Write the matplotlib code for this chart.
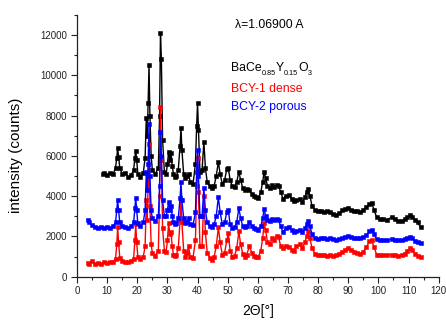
import matplotlib
matplotlib.use("Agg")
import matplotlib.pyplot as plt
from matplotlib.ticker import MultipleLocator
from matplotlib.transforms import offset_copy

plt.rcParams['font.family'] = ['Liberation Sans', 'DejaVu Sans']

# 2theta grid shared by the two BCY patterns
two_theta = [3.5, 4, 5, 6, 7, 8, 9, 10, 11, 12, 12.8, 13.2, 13.5, 13.8, 14.2, 15, 16, 17, 18,
             18.8, 19.2, 19.5, 19.8, 20.2, 21, 22, 22.6, 23.0, 23.3, 23.6, 23.9, 24.2, 24.6,
             25, 26, 27, 27.4, 27.7, 28.0, 28.4, 29, 29.6, 30.0, 30.4, 30.8, 31.2, 31.6, 32.0,
             32.5, 33, 33.6, 34.2, 34.5, 34.8, 35.4, 36, 36.6, 37, 37.6, 38.5, 39.3, 39.7, 40.0,
             40.3, 40.8, 41.5, 42.1, 42.6, 43.2, 44, 44.8, 45.5, 46.2, 46.9, 47.5, 48.2, 49,
             49.7, 50.2, 50.8, 51.5, 52.3, 53, 53.7, 54.3, 55, 55.6, 56.3, 57.2, 58, 58.8, 59.5,
             60.2, 61, 61.6, 62.1, 62.6, 63.2, 64, 64.8, 65.5, 66.2, 66.9, 67.6, 68.4, 69.2,
             70.3, 71.2, 72, 72.8, 73.9, 74.8, 75.6, 76.2, 76.7, 77.3, 78, 79, 80, 81, 82, 83,
             84, 85, 86, 87, 88, 89, 90, 91, 92, 93, 94, 95, 96, 97, 97.8, 98.6, 99.4, 100.5,
             101.5, 102.8, 104.4, 105.5, 106.5, 107.7, 108.7, 109.6, 110.5, 111.3, 112.2, 113, 114]

bcy2_porous = [2800, 2700, 2550, 2450, 2420, 2450, 2400, 2450, 2420, 2500, 2700, 3300, 3800, 3300,
               2700, 2500, 2460, 2420, 2500, 2700, 3400, 3900, 3300, 2650, 2500, 2700, 3300, 5200,
               4300, 5600, 7600, 5000, 3300, 2900, 2750, 3000, 4500, 7200, 6000, 3800, 3000, 3000,
               3300, 3700, 3300, 3500, 3000, 2700, 2600, 2650, 2900, 3900, 4700, 3800, 2900, 2650,
               2700, 2900, 2600, 2550, 3200, 5200, 6300, 5000, 3000, 3000, 4400, 3300, 2700, 2500,
               2480, 2600, 3000, 3950, 3200, 2600, 2700, 3200, 3300, 2600, 2400, 2450, 2700, 3400,
               2900, 2500, 2450, 2500, 2700, 2500, 2400, 2350, 2320, 2500, 2900, 3350, 3000, 2800,
               2750, 2850, 2800, 2850, 2800, 2500, 2200, 2400, 2480, 2300, 2200, 2250, 2300, 2200,
               2400, 2600, 2750, 2500, 2100, 1900, 1880, 1920, 1900, 1880, 1900, 1850, 1820, 1850,
               1920, 1980, 2000, 1950, 1900, 1920, 1900, 1950, 2050, 2250, 2320, 2100, 1850, 1820,
               1830, 1820, 1850, 1820, 1800, 1820, 1850, 1900, 1950, 1900, 1780, 1700, 1650]

bcy1_dense = [700, 650, 760, 620, 700, 640, 720, 680, 750, 730, 900, 1600, 2450, 1700, 950, 780,
              740, 720, 760, 900, 1800, 2600, 1700, 1000, 900, 1000, 1500, 3800, 2800, 4500, 6600,
              3500, 1600, 1200, 1050, 1300, 4000, 8400, 5800, 2400, 1300, 1250, 1800, 2650, 2100,
              2200, 1500, 1100, 1050, 1100, 1400, 2800, 3800, 2700, 1300, 1000, 1200, 1500, 1000,
              950, 1800, 4500, 5900, 4200, 1500, 1500, 4000, 2200, 1200, 950, 850, 1000, 1500,
              2450, 1700, 1100, 1200, 1800, 2150, 1300, 1000, 1050, 1400, 2250, 1600, 1150, 1000,
              1100, 1500, 1200, 1050, 1000, 990, 1300, 1900, 2650, 2300, 1700, 1600, 1900, 1800,
              2000, 1950, 1500, 1400, 1500, 1490, 1350, 1300, 1500, 1600, 1400, 1700, 2000, 2250,
              1900, 1400, 1150, 1100, 1080, 1100, 1050, 1080, 1050, 1080, 1150, 1250, 1350, 1420,
              1350, 1250, 1200, 1150, 1250, 1450, 1750, 1800, 1450, 1100, 1080, 1080, 1080, 1100,
              1080, 1050, 1080, 1150, 1300, 1400, 1350, 1150, 1050, 980]

# BaCe0.85Y0.15O3 reference pattern starts later
two_theta_ref = [8.5] + two_theta[6:]
bcy_ref = [5100, 5150, 5050, 5150, 5100, 5400, 5900, 6400, 5950, 5400, 5100, 5150, 4950, 5050,
           5300, 5900, 6250, 5800, 5100, 4950, 5150, 5900, 7900, 7000, 8600, 10500, 8000, 6000,
           5300, 5100, 5400, 8000, 12100, 10800, 6800, 5200, 5100, 5600, 6200, 5800, 6150, 5500,
           5100, 4950, 5000, 5300, 6500, 7400, 6300, 5100, 4900, 5000, 5100, 4700, 4600, 5600,
           7500, 8600, 7300, 5200, 5300, 6700, 5400, 4700, 4500, 4400, 4500, 5000, 5700, 5100,
           4600, 4800, 5350, 5400, 4800, 4500, 4450, 4700, 5200, 4800, 4400, 4300, 4350, 4300,
           4100, 4000, 3950, 3900, 4200, 4700, 5200, 4900, 4500, 4400, 4550, 4450, 4550, 4500,
           4200, 3850, 4000, 4050, 3850, 3750, 3800, 3850, 3700, 3950, 4200, 4350, 4000, 3500,
           3300, 3250, 3250, 3200, 3250, 3200, 3100, 3060, 3150, 3300, 3350, 3400, 3300, 3250,
           3280, 3220, 3300, 3450, 3600, 3650, 3300, 2950, 2850, 2850, 2820, 2950, 2850, 2750,
           2750, 2850, 2950, 3050, 2980, 2800, 2700, 2450]

fig = plt.figure(figsize=(4.46, 3.2), dpi=100)
ax = fig.add_axes([0.1726, 0.1353, 0.811, 0.8185])

style = dict(marker='s', markersize=2.6, linewidth=1.0, markeredgewidth=0.4)
ax.plot(two_theta_ref, bcy_ref, color='black', **style)
ax.plot(two_theta, bcy1_dense, color='#ff0000', **style)
ax.plot(two_theta, bcy2_porous, color='#0000ff', **style)

ax.set_xlim(0, 120)
ax.set_ylim(0, 13000)
ax.xaxis.set_major_locator(MultipleLocator(10))
ax.xaxis.set_minor_locator(MultipleLocator(5))
ax.yaxis.set_major_locator(MultipleLocator(2000))
ax.yaxis.set_minor_locator(MultipleLocator(1000))
ax.spines['top'].set_visible(False)
ax.spines['right'].set_visible(False)
for s in ('left', 'bottom'):
    ax.spines[s].set_linewidth(0.9)
    ax.spines[s].set_color('#222222')
ax.tick_params(which='major', direction='out', length=4, width=0.8, labelsize=7, colors='#222222', pad=3)
ax.tick_params(which='minor', direction='out', length=2.5, width=0.8, colors='#222222')

ax.set_xlabel('2\u0398[\u00b0]', fontsize=10, labelpad=5.5)
ax.set_ylabel('intensity (counts)', fontsize=11)
ax.yaxis.set_label_coords(-0.150, 0.465)

ax.text(52.4, 12490, '\u03bb=1.06900 A', fontsize=8.7, va='center')
ax.text(51.1, 9310, 'BCY-1 dense', fontsize=8.8, va='center', color='#ff0000')
ax.text(51.1, 8420, 'BCY-2 porous', fontsize=8.8, va='center', color='#0000ff')

# formula with small, lowered subscripts, placed piece by piece
fig.canvas.draw()
renderer = fig.canvas.get_renderer()
parts = [('BaCe', 8.8, 0), ('0.85', 5.2, -4), ('Y', 8.8, 0), ('0.15', 5.2, -4), ('O', 8.8, 0), ('3', 5.2, -4)]
dx = 0.0
for txt, size, dy in parts:
    tr = offset_copy(ax.transData, fig=fig, x=dx, y=dy, units='dots')
    t = ax.text(51.1, 10190, txt, fontsize=size, va='baseline', transform=tr)
    dx += t.get_window_extent(renderer).width

fig.savefig('out.png', dpi=100)
